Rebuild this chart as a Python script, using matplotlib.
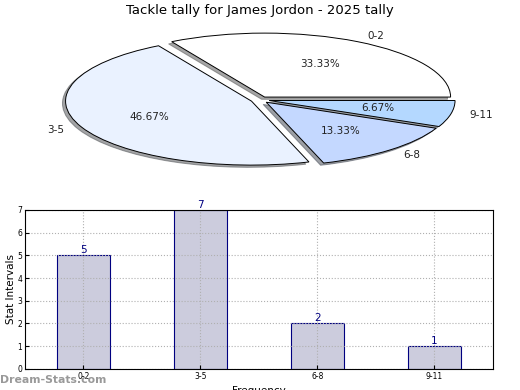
import matplotlib
matplotlib.use("Agg")
import matplotlib.pyplot as plt
import numpy as np

intervals = ['0-2', '3-5', '6-8', '9-11']
tallies = [5, 7, 2, 1]
slice_colors = ['#ffffff', '#eaf2ff', '#c4d8ff', '#b4d8ff']

fig = plt.figure(figsize=(5.2, 3.9), dpi=100)

# pie (squashed, old-school look)
ax1 = fig.add_axes([0.053, 0.539, 0.894, 0.41])
ax1.pie(tallies, labels=intervals, colors=slice_colors, autopct='%1.2f%%',
        explode=[0.05] * len(tallies),
        shadow={'ox': -0.012, 'oy': -0.025}, startangle=0,
        wedgeprops={'edgecolor': 'black', 'linewidth': 0.7},
        textprops={'fontsize': 7.5, 'color': '#222222'})
ax1.set_aspect('auto')
ax1.set_xlim(-1.25, 1.25)
ax1.set_ylim(-1.25, 1.25)
ax1.set_title('Tackle tally for James Jordon - 2025 tally', fontsize=9.5, pad=4)

# bars
ax2 = fig.add_axes([0.048, 0.054, 0.9, 0.408])
x = np.arange(len(intervals))
rects = ax2.bar(x, tallies, 0.45, color='#ccccdd', edgecolor='#000080', linewidth=0.8)
for r in rects:
    h = r.get_height()
    ax2.annotate('{}'.format(h), xy=(r.get_x() + r.get_width() / 2, h),
                 xytext=(0, 0), textcoords='offset points',
                 ha='center', va='bottom', color='#000080', fontsize=7.5)
ax2.set_xlim(-0.5, 3.5)
ax2.set_ylim(0, 7)
ax2.set_xticks(x)
ax2.set_xticklabels(intervals)
ax2.set_yticks(range(8))
ax2.tick_params(labelsize=5.5, direction='in', length=3, pad=2)
ax2.grid(True, linestyle=':', color='#b0b0b0', linewidth=0.8)
ax2.set_ylabel('Stat Intervals', fontsize=7.5, labelpad=1)
ax2.set_xlabel('Frequency', fontsize=7.5, labelpad=4)

fig.text(0.0, 0.012, 'Dream-Stats.com', fontsize=7.8, color='#999999',
         fontweight='bold', ha='left', va='bottom')

fig.savefig('out.png', dpi=100)
